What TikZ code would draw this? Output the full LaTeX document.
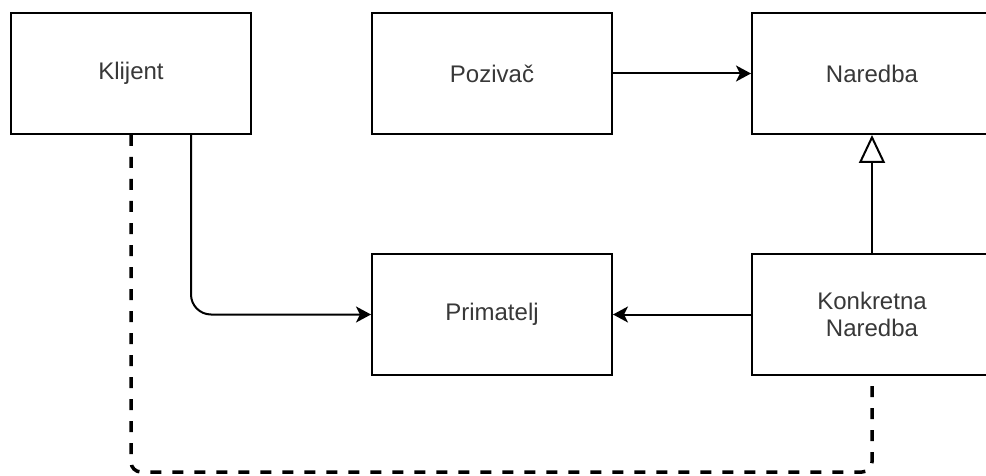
\documentclass[tikz,border=0pt]{standalone}
\usepackage{fontspec}
\setmainfont{Liberation Sans}
\usetikzlibrary{arrows.meta}

\begin{document}
\begin{tikzpicture}[x=1pt,y=-1pt,line width=2pt,>={Stealth[length=15pt,width=16pt,inset=4pt]},
  block/.style={draw,fill=white,minimum width=240pt,minimum height=121pt,align=center,text=black!78,font=\fontsize{24}{27}\selectfont},
  dep/.style={line width=3.5pt,dash pattern=on 11pt off 11pt,rounded corners=10pt}]
\useasboundingbox (0,0) rectangle (986,476);
\clip (0,0) rectangle (986,476);

% Boxes
\node[block] (klijent) at (131,73.5) {Klijent};
\node[block] (pozivac) at (492,73.5) {Pozivač};
\node[block] (naredba) at (872,73.5) {Naredba};
\node[block] (primatelj) at (492,314.5) {Primatelj};
\node[block] (konkretna) at (872,314.5) {Konkretna\\Naredba};

% Links
\draw[->] (pozivac) -- (naredba);
\draw[-{Triangle[open,length=28pt,width=26pt,fill=white]}] (konkretna) -- (naredba);
\draw[->] (konkretna) -- (primatelj);
\draw[->,rounded corners=20pt] ([xshift=60pt]klijent.south) |- (primatelj);

% Dependency (dashed)
\coordinate (dno) at (131,472);
\draw[dep] (klijent.south) -- (dno) -| (konkretna.south);
\end{tikzpicture}
\end{document}
